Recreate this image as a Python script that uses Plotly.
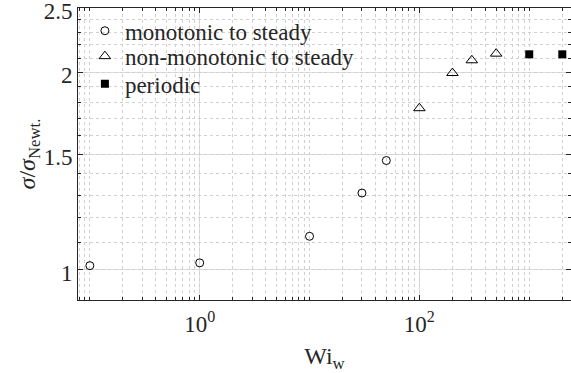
import numpy as np
import plotly.graph_objects as go

# Data
wi_mono = [0.1, 1, 10, 30, 50]
s_mono = [1.015, 1.025, 1.125, 1.309, 1.467]
wi_nonmono = [100, 200, 300, 500]
s_nonmono = [1.762, 1.993, 2.084, 2.133]
wi_periodic = [1000, 2000]
s_periodic = [2.128, 2.128]

x_major = [1, 100]
x_major_text = ["10<sup>0</sup>", "10<sup>2</sup>"]
y_major = [1, 1.5, 2, 2.5]
y_major_text = ["1", "1.5", "2", "2.5"]
y_minor = [round(v, 1) for v in np.arange(0.9, 2.51, 0.1)]

xr = [np.log10(0.078), np.log10(2400)]
yr = [np.log10(0.9), np.log10(2.5) + 0.0005]

FONT = "Liberation Serif, DejaVu Serif, serif"
INK = "#262626"

fig = go.Figure()
fig.add_trace(go.Scatter(x=wi_mono, y=s_mono, mode="markers", name="monotonic to steady", legend="legend",
                         marker=dict(symbol="circle-open", size=8, color="black", line=dict(width=1))))
fig.add_trace(go.Scatter(x=wi_nonmono, y=s_nonmono, mode="markers", name="non-monotonic to steady", legend="legend2",
                         marker=dict(symbol="triangle-up-open", size=10, color="black", line=dict(width=1))))
fig.add_trace(go.Scatter(x=wi_periodic, y=s_periodic, mode="markers", name="periodic", legend="legend3",
                         marker=dict(symbol="square", size=8, color="black")))

leg_common = dict(x=0.014, xanchor="left", yanchor="middle", bgcolor="rgba(0,0,0,0)",
                  borderwidth=0, font=dict(size=23, family=FONT, color=INK))

fig.update_layout(
    width=571, height=373,
    margin=dict(l=78, r=0, t=8, b=73, autoexpand=False),
    paper_bgcolor="white", plot_bgcolor="white",
    font=dict(family=FONT, color=INK, size=20),
    showlegend=True,
    legend=dict(y=0.922, **leg_common),
    legend2=dict(y=0.835, **leg_common),
    legend3=dict(y=0.74, **leg_common),
    xaxis=dict(type="log", range=xr, tickvals=x_major, ticktext=x_major_text,
               showgrid=True, gridcolor="#dedede", gridwidth=1, automargin=False,
               ticks="inside", ticklen=5, tickcolor=INK, showline=True, linecolor=INK, linewidth=1,
               mirror="ticks", zeroline=False, tickfont=dict(size=23, family=FONT),
               ticklabeloverflow="allow", ticklabelstandoff=3,
               title=dict(text="Wi<sub>w</sub>", font=dict(size=24, family=FONT), standoff=12)),
    yaxis=dict(type="log", range=yr, tickvals=y_major, ticktext=y_major_text,
               showgrid=True, gridcolor="#dedede", gridwidth=1, automargin=False,
               ticks="inside", ticklen=5, tickcolor=INK, showline=True, linecolor=INK, linewidth=1,
               mirror="ticks", zeroline=False, tickfont=dict(size=23, family=FONT),
               ticklabeloverflow="allow", ticklabelshift=3,
               title=dict(text="<i>σ</i>/<i>σ</i><sub>Newt.</sub>", font=dict(size=24, family=FONT), standoff=0)),
    xaxis2=dict(type="log", range=xr, overlaying="x", dtick="D1", showticklabels=False,
                showgrid=True, gridcolor="#d0d0d0", griddash="dot", gridwidth=1, automargin=False,
                ticks="inside", ticklen=3, tickcolor=INK, mirror="ticks", showline=False,
                zeroline=False, side="bottom"),
    yaxis2=dict(type="log", range=yr, overlaying="y", tickvals=y_minor, showticklabels=False,
                showgrid=True, gridcolor="#d0d0d0", griddash="dot", gridwidth=1, automargin=False,
                ticks="inside", ticklen=3, tickcolor=INK, mirror="ticks", showline=False,
                zeroline=False, side="left"),
)
# invisible trace to activate overlay axes
fig.add_trace(go.Scatter(x=[1], y=[1], xaxis="x2", yaxis="y2", mode="markers",
                         marker=dict(opacity=0), showlegend=False, hoverinfo="skip"))

fig.write_html("out.html")
